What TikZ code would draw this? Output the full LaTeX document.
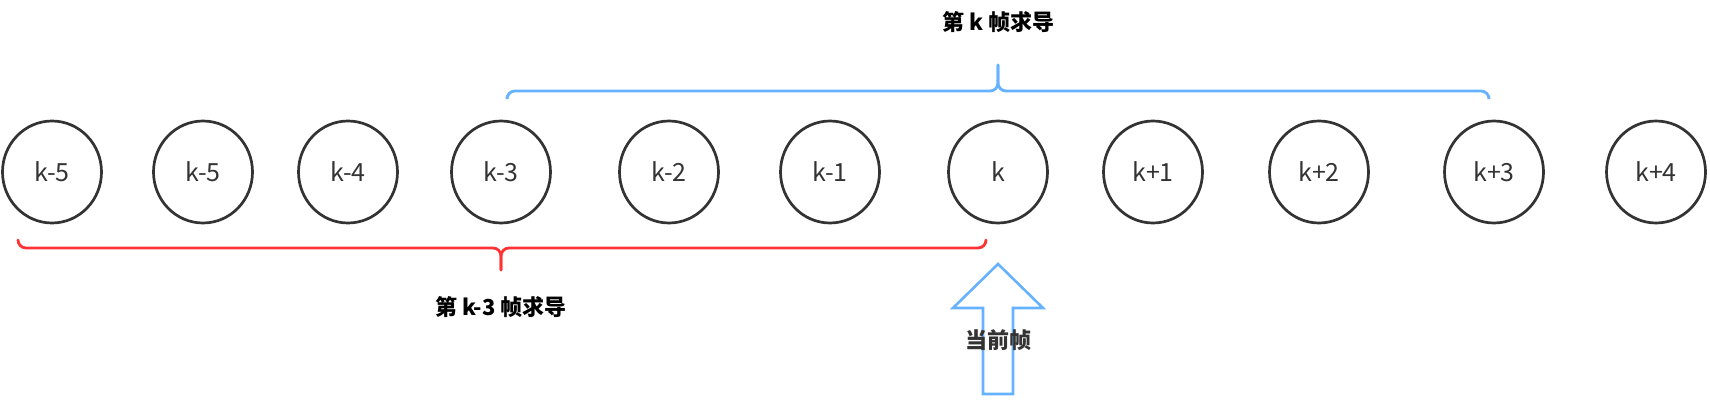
\documentclass[tikz,border=0pt]{standalone}
\usepackage{fontspec}
\setmainfont{Noto Sans CJK SC}
\usetikzlibrary{shapes.geometric}
\definecolor{framegray}{HTML}{333333}
\definecolor{braceblue}{HTML}{66B2FF}
\definecolor{bracered}{HTML}{FF3333}

\begin{document}
\begin{tikzpicture}[x=1pt,y=-1pt]
\tikzset{frame/.style={ellipse,draw=framegray,line width=2.7pt,minimum width=99pt,minimum height=102pt,inner sep=0pt,text=framegray,font=\fontsize{25}{29}\selectfont},
  brace/.style={line width=2.8pt,line cap=round,rounded corners=8pt},
  caption/.style={font=\bfseries\fontsize{22}{26}\selectfont}}
\useasboundingbox (0,0) rectangle (1710,401);
% frames
\foreach \n/\x/\lab in {1/52/k-5,2/203/k-5,3/348/k-4,4/501/k-3,5/669/k-2,6/830/k-1,7/998/k,8/1153/k+1,9/1319/k+2,10/1494/k+3,11/1656/k+4}
  \node[frame] (f\n) at (\x,172) {\lab};
% derivative at frame k
\draw[brace,braceblue] (507,97) -- (507,91) -- (f7.center |- 0,91) -- (998,65);
\draw[brace,braceblue] (1489,97) -- (1489,91) -- (f7.center |- 0,91) -- (998,65);
\node[caption] (capk) at (998,22) {第 k 帧求导};
% derivative at frame k-3
\draw[brace,bracered] (18,240) -- (18,248) -- (f4.center |- 0,248) -- (501,270);
\draw[brace,bracered] (986,240) -- (986,248) -- (f4.center |- 0,248) -- (501,270);
\node[caption] (capk3) at (501,307) {第 k-3 帧求导};
% current frame
\draw[braceblue,line width=2.6pt] (998,264) -- (1043,308) -- (1013,308) -- (1013,394) -- (983,394) -- (983,308) -- (953,308) -- cycle;
\node[caption,text=framegray] (cur) at (998,340) {当前帧};
\end{tikzpicture}
\end{document}
